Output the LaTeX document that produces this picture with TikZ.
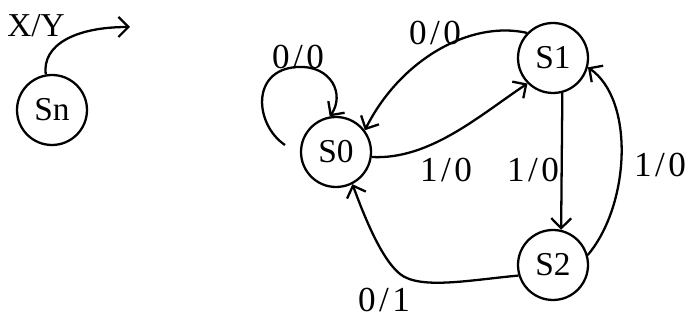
\documentclass[tikz,border=0pt]{standalone}
\usepackage{fontspec}
\setmainfont{Liberation Serif}
\newfontfamily\lblfont[LetterSpace=10]{Liberation Serif}
\usetikzlibrary{arrows.meta}
\tikzset{
  tstate/.style={draw, circle, line width=1.3pt, minimum size=1.4cm, inner sep=0pt, font=\fontsize{19}{21}\selectfont},
  tarc/.style={-{Straight Barb[length=2mm,width=4mm]}, line width=1.3pt},
  tlbl/.style={font=\lblfont\fontsize{20}{22}\selectfont, inner sep=0pt},
}

\begin{document}
\begin{tikzpicture}[x=0.02cm, y=-0.02cm]
    \useasboundingbox (0,0) rectangle (690,320);
    % states
    \node[tstate] (sn) at (52,110) {Sn};
    \node[tstate] (s0) at (336,152) {S0};
    \node[tstate] (s1) at (553,58) {S1};
    \node[tstate] (s2) at (553,265) {S2};
    \coordinate (snout) at (130,27);
    \coordinate (s0loop) at (285,145);
    % labels
    \node[tlbl, font=\fontsize{19}{21}\selectfont] (lxy) at (36,26) {X/Y};
    \node[tlbl] (l00a) at (298,57) {0/0};
    \node[tlbl] (l00b) at (435,33) {0/0};
    \node[tlbl] (l10a) at (446,170) {1/0};
    \node[tlbl] (l10b) at (533,170) {1/0};
    \node[tlbl] (l10c) at (660,165) {1/0};
    \node[tlbl] (l01) at (384,300) {0/1};
    % transitions
    \draw[tarc] (sn.100) .. controls (42,45) and (75,27) .. (snout);
    \draw[tarc] (s0loop) .. controls (255,125) and (250,70) .. (297,67) .. controls (332,65) and (345,95) .. (s0.100);
    \draw[tarc] (s1.136) .. controls (470,20) and (400,60) .. (s0.37);
    \draw[tarc] (s0.-8) .. controls (430,160) and (480,115) .. (s1.225);
    \draw[tarc] (s1.-75) -- (s2.77);
    \draw[tarc] (s2.16) .. controls (630,205) and (635,100) .. (s1.-15);
    \draw[tarc] (s2.197) .. controls (470,280) and (420,290) .. (400,274) .. controls (380,258) and (362,210) .. (s0.-63);
\end{tikzpicture}
\end{document}
